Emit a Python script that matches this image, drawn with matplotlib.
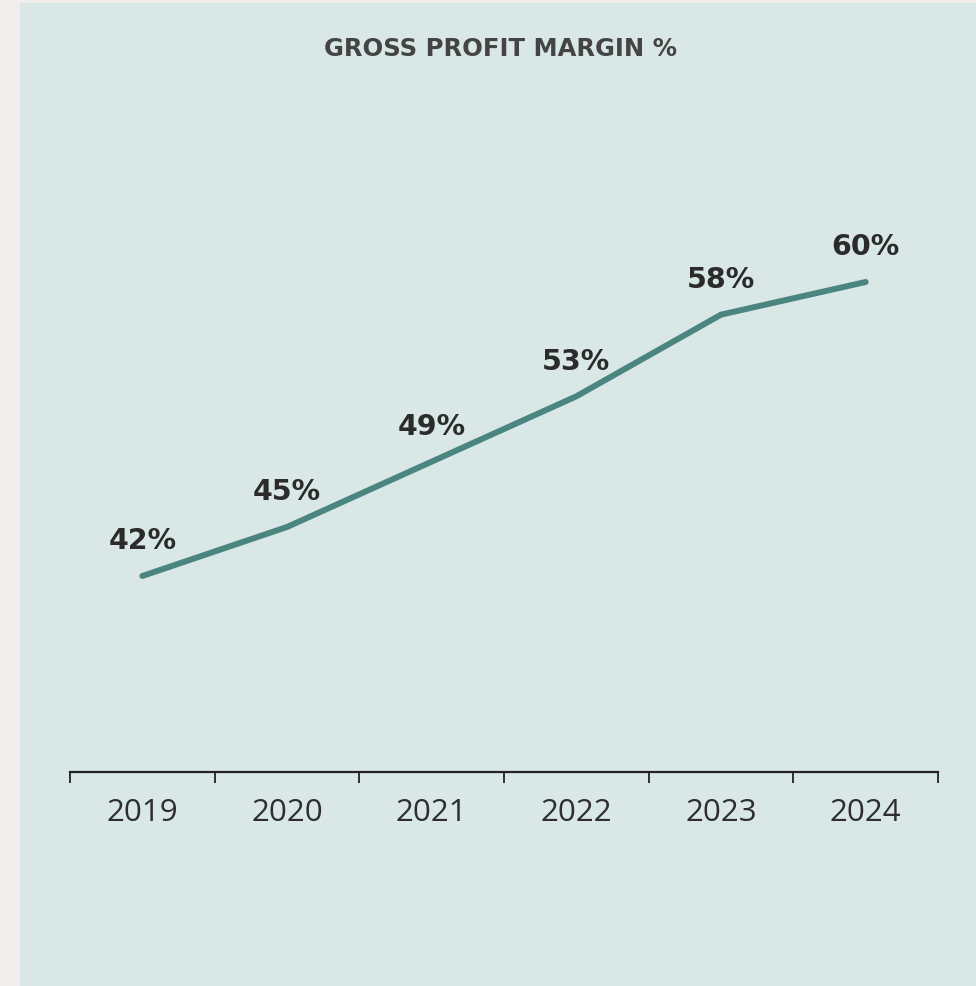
import matplotlib
matplotlib.use('Agg')
import matplotlib.pyplot as plt
from matplotlib.patches import Rectangle
from matplotlib.ticker import FixedLocator, NullFormatter

plt.rcParams['font.family'] = ['DejaVu Sans']

years = ['2019', '2020', '2021', '2022', '2023', '2024']
margin = [42, 45, 49, 53, 58, 60]

fig = plt.figure(figsize=(9.76, 9.86), dpi=100)
fig.patch.set_facecolor('#f2eded')

# light teal panel
fig.patches.append(Rectangle((20 / 976, 0), 1 - 20 / 976, 983 / 986,
                             transform=fig.transFigure, facecolor='#d9e8e6',
                             edgecolor='none', zorder=-10))

fig.text(501 / 976, 1 - 49 / 986, 'GROSS PROFIT MARGIN %', ha='center', va='center',
         fontsize=17.5, fontweight='bold', color='#444444')

ax = fig.add_axes([70 / 976, (986 - 772) / 986, 868 / 976, 0.5798])
ax.set_facecolor('none')
x = list(range(len(years)))
ax.plot(x, margin, color='#4a8580', lw=4.3, solid_capstyle='round', solid_joinstyle='round')

for xi, v in zip(x, margin):
    ax.annotate(f'{v}%', (xi, v), xytext=(0, 25), textcoords='offset points',
                ha='center', va='center', fontsize=20.5, fontweight='bold', color='#2b2b2b')

ax.set_xlim(-0.5, len(years) - 0.5)
ax.set_ylim(30, 65)
ax.set_xticks(x)
ax.set_xticklabels(years, fontsize=22.5, color='#2e2e2e', fontweight='normal',
                   family=['Open Sans', 'DejaVu Sans'])
ax.tick_params(axis='x', which='major', length=0, pad=19)
ax.xaxis.set_minor_locator(FixedLocator([i - 0.5 for i in range(len(years) + 1)]))
ax.xaxis.set_minor_formatter(NullFormatter())
ax.tick_params(axis='x', which='minor', length=8, width=1.3, color='#222222', direction='out')
ax.set_yticks([])
for s in ['top', 'right', 'left']:
    ax.spines[s].set_visible(False)
ax.spines['bottom'].set_linewidth(1.6)
ax.spines['bottom'].set_color('#222222')

fig.savefig('out.png', dpi=100, facecolor=fig.get_facecolor())
